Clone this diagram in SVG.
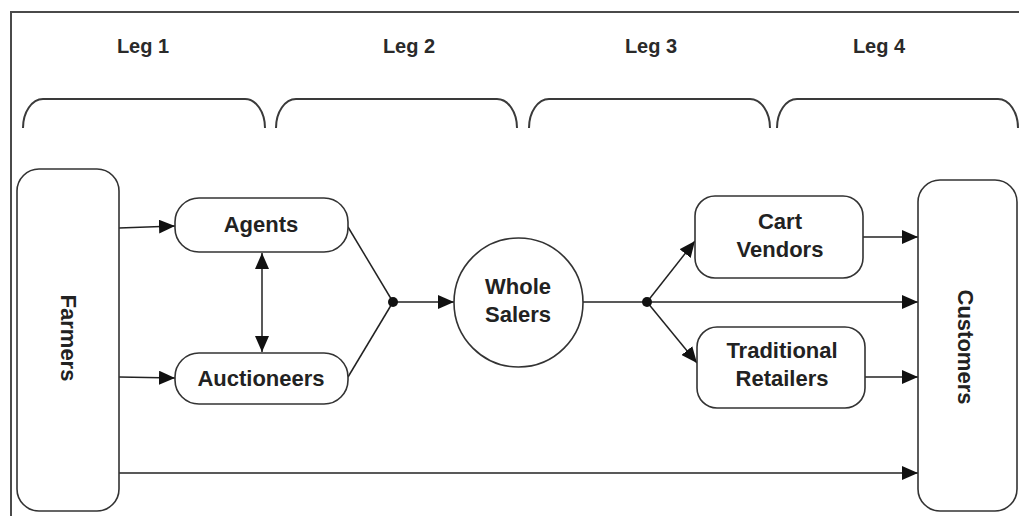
<svg xmlns="http://www.w3.org/2000/svg" width="1019" height="516" viewBox="0 0 1019 516">
  <defs>
    <style>
      .frame { fill: none; stroke: #4a4a4a; stroke-width: 2; }
      .brace { fill: none; stroke: #3a3a3a; stroke-width: 2; }
      .node { fill: #ffffff; stroke: #333333; stroke-width: 1.6; }
      .conn { fill: none; stroke: #222222; stroke-width: 1.5; }
      .lbl { font-family: "Liberation Sans", Arial, sans-serif; font-weight: bold; font-size: 22px; fill: #222222; text-anchor: middle; }
      .leg { font-family: "Liberation Sans", Arial, sans-serif; font-weight: bold; font-size: 20px; fill: #2a2a2a; text-anchor: middle; }
      .dot { fill: #111111; }
    </style>
    <marker id="arrow" markerUnits="userSpaceOnUse" markerWidth="16" markerHeight="14" viewBox="0 0 16 14" refX="16" refY="7" orient="auto-start-reverse">
      <path d="M0,0 L16,7 L0,14 z" fill="#111111"/>
    </marker>
  </defs>

  <rect x="0" y="0" width="1019" height="516" fill="#ffffff"/>
  <path class="frame" d="M11,516 V12 H1019"/>

  <g id="legs">
    <text class="leg" x="143" y="53">Leg 1</text>
    <text class="leg" x="409" y="53">Leg 2</text>
    <text class="leg" x="651" y="53">Leg 3</text>
    <text class="leg" x="879" y="53">Leg 4</text>
    <path class="brace" d="M23,128 A20,29 0 0 1 43,99 H245 A20,29 0 0 1 265,128"/>
    <path class="brace" d="M276,128 A20,29 0 0 1 296,99 H497 A20,29 0 0 1 517,128"/>
    <path class="brace" d="M529,128 A20,29 0 0 1 549,99 H750 A20,29 0 0 1 770,128"/>
    <path class="brace" d="M777,128 A20,29 0 0 1 797,99 H998 A20,29 0 0 1 1018,128"/>
  </g>

  <g id="connectors">
    <line class="conn" x1="119" y1="228" x2="175" y2="226" marker-end="url(#arrow)"/>
    <line class="conn" x1="119" y1="377" x2="175" y2="378" marker-end="url(#arrow)"/>
    <line class="conn" x1="262" y1="253" x2="262" y2="352" marker-start="url(#arrow)" marker-end="url(#arrow)"/>
    <line class="conn" x1="348" y1="227" x2="393" y2="302"/>
    <line class="conn" x1="348" y1="377" x2="393" y2="302"/>
    <line class="conn" x1="393" y1="302" x2="454" y2="302" marker-end="url(#arrow)"/>
    <line class="conn" x1="583" y1="302" x2="647" y2="302"/>
    <line class="conn" x1="647" y1="302" x2="695" y2="241" marker-end="url(#arrow)"/>
    <line class="conn" x1="647" y1="302" x2="918" y2="302" marker-end="url(#arrow)"/>
    <line class="conn" x1="647" y1="302" x2="697" y2="363" marker-end="url(#arrow)"/>
    <line class="conn" x1="863" y1="237" x2="918" y2="237" marker-end="url(#arrow)"/>
    <line class="conn" x1="865" y1="377" x2="918" y2="377" marker-end="url(#arrow)"/>
    <line class="conn" x1="119" y1="473" x2="918" y2="473" marker-end="url(#arrow)"/>
    <circle class="dot" cx="393" cy="302" r="5"/>
    <circle class="dot" cx="647" cy="302" r="5"/>
  </g>

  <g id="farmers">
    <rect class="node" x="17" y="169" width="102" height="342" rx="22" ry="22"/>
    <text class="lbl" transform="translate(61,338) rotate(90)">Farmers</text>
  </g>
  <g id="agents">
    <rect class="node" x="175" y="198" width="173" height="54" rx="24" ry="24"/>
    <text class="lbl" x="261" y="232">Agents</text>
  </g>
  <g id="auctioneers">
    <rect class="node" x="175" y="353" width="173" height="51" rx="24" ry="24"/>
    <text class="lbl" x="261" y="386">Auctioneers</text>
  </g>
  <g id="wholesalers">
    <circle class="node" cx="518.5" cy="302.5" r="64.5"/>
    <text class="lbl" x="518" y="294">Whole</text>
    <text class="lbl" x="518" y="322">Salers</text>
  </g>
  <g id="cartvendors">
    <rect class="node" x="695" y="196" width="168" height="82" rx="20" ry="20"/>
    <text class="lbl" x="780" y="229">Cart</text>
    <text class="lbl" x="780" y="257">Vendors</text>
  </g>
  <g id="traditionalretailers">
    <rect class="node" x="697" y="327" width="168" height="81" rx="20" ry="20"/>
    <text class="lbl" x="782" y="358">Traditional</text>
    <text class="lbl" x="782" y="386">Retailers</text>
  </g>
  <g id="customers">
    <rect class="node" x="918" y="180" width="99" height="331" rx="22" ry="22"/>
    <text class="lbl" transform="translate(958,347) rotate(90)">Customers</text>
  </g>
</svg>
